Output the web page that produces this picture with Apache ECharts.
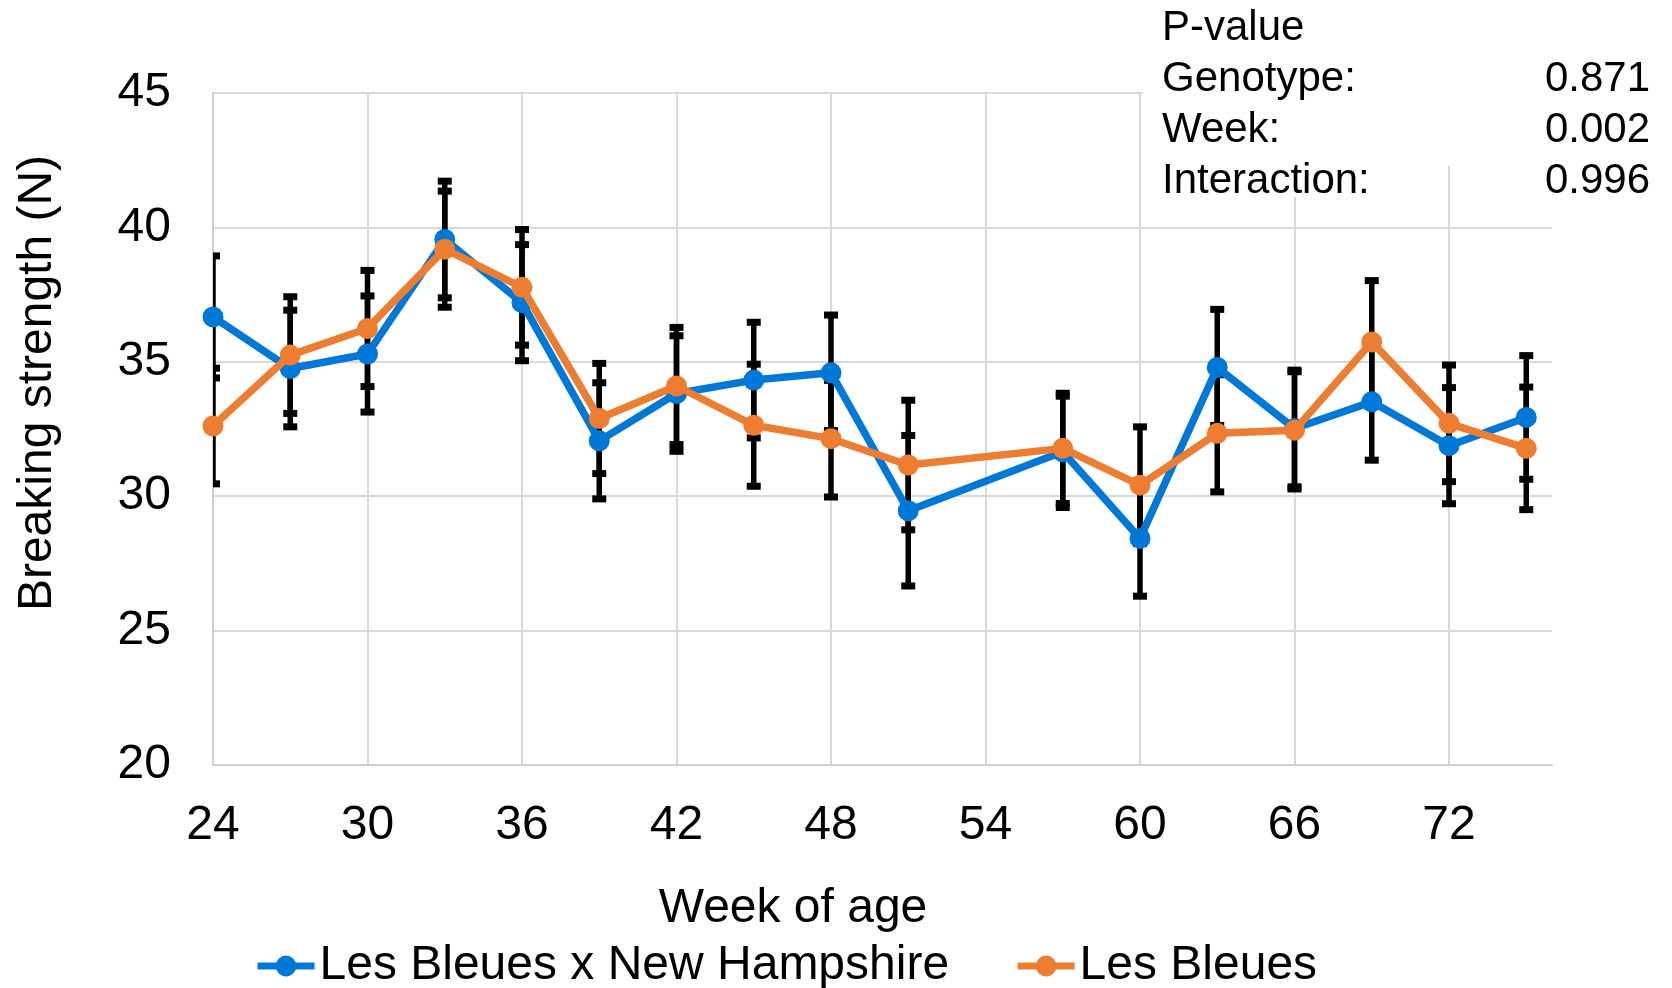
<!DOCTYPE html>
<html>
<head>
<meta charset="utf-8">
<title>Breaking strength by week of age</title>
<script src="https://cdn.jsdelivr.net/npm/echarts@6.0.0/dist/echarts.min.js"></script>
<style>
  html, body { margin: 0; padding: 0; background: #fff; }
  #chart { width: 1672px; height: 988px; }
</style>
</head>
<body>
<div id="chart"></div>
<script>
// week of age
var weeks = [24, 27, 30, 33, 36, 39, 42, 45, 48, 51, 57, 60, 63, 66, 69, 72, 75];
// Les Bleues x New Hampshire
var crossMean = [36.67, 34.75, 35.29, 39.55, 37.2, 32.06, 33.82, 34.32, 34.59, 29.46, 31.65, 28.43, 34.79, 32.52, 33.51, 31.88, 32.93];
var crossSE = [2.27, 2.17, 2.16, 2.17, 2.16, 2.16, 2.15, 2.15, 2.15, 2.8, 2.07, 2.15, 2.16, 2.17, 2.17, 2.16, 2.3];
// Les Bleues
var pureMean = [32.61, 35.25, 36.24, 39.19, 37.77, 32.89, 34.1, 32.64, 32.14, 31.16, 31.78, 30.41, 32.34, 32.45, 35.74, 32.71, 31.78];
var pureSE = [2.15, 2.17, 2.16, 2.16, 2.15, 2.05, 2.18, 2.27, 2.17, 2.41, 2.05, 2.17, 2.18, 2.18, 2.28, 2.17, 2.28];

var seriesNames = ["Les Bleues x New Hampshire", "Les Bleues"];
var pLabels = ["Genotype:", "Week:", "Interaction:"];
var pValues = ["0.871", "0.002", "0.996"];

var FONT = "'Liberation Sans', Arial, sans-serif";
var BLUE = "#0078d7";
var ORANGE = "#ed7d31";

function pairs(xs, ys) {
  return xs.map(function (x, i) { return [x, ys[i]]; });
}
function bars(xs, ys, se) {
  return xs.map(function (x, i) { return [x, ys[i] - se[i], ys[i] + se[i]]; });
}

// error bar: vertical stem + small caps at both ends
function renderErrorBar(params, api) {
  var lo = api.coord([api.value(0), api.value(1)]);
  var hi = api.coord([api.value(0), api.value(2)]);
  var capW = 14, capH = 7;
  var black = { fill: "#000" };
  return {
    type: "group",
    children: [
      { type: "line", shape: { x1: lo[0], y1: lo[1], x2: hi[0], y2: hi[1] }, style: { stroke: "#000", lineWidth: 5.5 } },
      { type: "rect", shape: { x: hi[0] - capW / 2, y: hi[1] - capH / 2, width: capW, height: capH }, style: black },
      { type: "rect", shape: { x: lo[0] - capW / 2, y: lo[1] - capH / 2, width: capW, height: capH }, style: black }
    ]
  };
}

var chart = echarts.init(document.getElementById("chart"));

var graphics = [
  // white box of the p-value note covers the grid behind it
  { type: "rect", z: 100, shape: { x: 1143, y: 0, width: 529, height: 166 }, style: { fill: "#fff" } },
  { type: "rect", z: 100, shape: { x: 1143, y: 166, width: 160, height: 31 }, style: { fill: "#fff" } },
  { type: "text", z: 101, x: 1162, y: 28, style: { text: "P-value", font: "42px " + FONT, fill: "#000", verticalAlign: "middle" } },
  // axis titles
  { type: "text", z: 101, x: 38, y: 383, rotation: Math.PI / 2, style: { text: "Breaking strength (N)", font: "48px " + FONT, fill: "#000", align: "center", verticalAlign: "middle" } },
  { type: "text", z: 101, x: 793, y: 909, style: { text: "Week of age", font: "48px " + FONT, fill: "#000", align: "center", verticalAlign: "middle" } }
];
pLabels.forEach(function (lab, i) {
  var y = 79 + i * 51;
  graphics.push({ type: "text", z: 101, x: 1162, y: y, style: { text: lab, font: "42px " + FONT, fill: "#000", verticalAlign: "middle" } });
  graphics.push({ type: "text", z: 101, x: 1650, y: y, style: { text: pValues[i], font: "42px " + FONT, fill: "#000", align: "right", verticalAlign: "middle" } });
});

var option = {
  animation: false,
  textStyle: { fontFamily: FONT },
  grid: { left: 213, top: 93, right: 120, bottom: 223, containLabel: false },
  legend: {
    data: seriesNames,
    left: 254,
    top: 942,
    padding: 0,
    itemWidth: 57,
    itemHeight: 26,
    itemGap: 65,
    lineStyle: { width: 7 },
    textStyle: { fontSize: 48, color: "#000", fontFamily: FONT }
  },
  xAxis: {
    type: "value",
    min: 24,
    max: 76,
    interval: 6,
    axisLine: { show: true, lineStyle: { color: "#d0d0d0", width: 2 } },
    axisTick: { show: false },
    axisLabel: { fontSize: 48, color: "#000", margin: 37, showMaxLabel: false, fontFamily: FONT },
    splitLine: { show: true, showMinLine: false, showMaxLine: false, lineStyle: { color: "#d9d9d9", width: 2 } }
  },
  yAxis: {
    type: "value",
    min: 20,
    max: 45,
    interval: 5,
    axisLine: { show: true, lineStyle: { color: "#d0d0d0", width: 2 } },
    axisTick: { show: false },
    axisLabel: { fontSize: 48, color: "#000", margin: 42, padding: [6, 0, 0, 0], fontFamily: FONT },
    splitLine: { show: true, showMinLine: false, lineStyle: { color: "#d9d9d9", width: 2 } }
  },
  graphic: graphics,
  series: [
    {
      type: "custom",
      name: "err-cross",
      z: 1,
      clip: true,
      renderItem: renderErrorBar,
      encode: { x: 0, y: [1, 2] },
      data: bars(weeks, crossMean, crossSE),
      silent: true
    },
    {
      type: "custom",
      name: "err-pure",
      z: 1,
      clip: true,
      renderItem: renderErrorBar,
      encode: { x: 0, y: [1, 2] },
      data: bars(weeks, pureMean, pureSE),
      silent: true
    },
    {
      type: "line",
      name: seriesNames[0],
      z: 3,
      data: pairs(weeks, crossMean),
      symbol: "circle",
      symbolSize: 21,
      color: BLUE,
      lineStyle: { width: 7.5, color: BLUE },
      itemStyle: { color: BLUE },
      emphasis: { disabled: true }
    },
    {
      type: "line",
      name: seriesNames[1],
      z: 4,
      data: pairs(weeks, pureMean),
      symbol: "circle",
      symbolSize: 21,
      color: ORANGE,
      lineStyle: { width: 7.5, color: ORANGE },
      itemStyle: { color: ORANGE },
      emphasis: { disabled: true }
    }
  ]
};

chart.setOption(option);
</script>
</body>
</html>
